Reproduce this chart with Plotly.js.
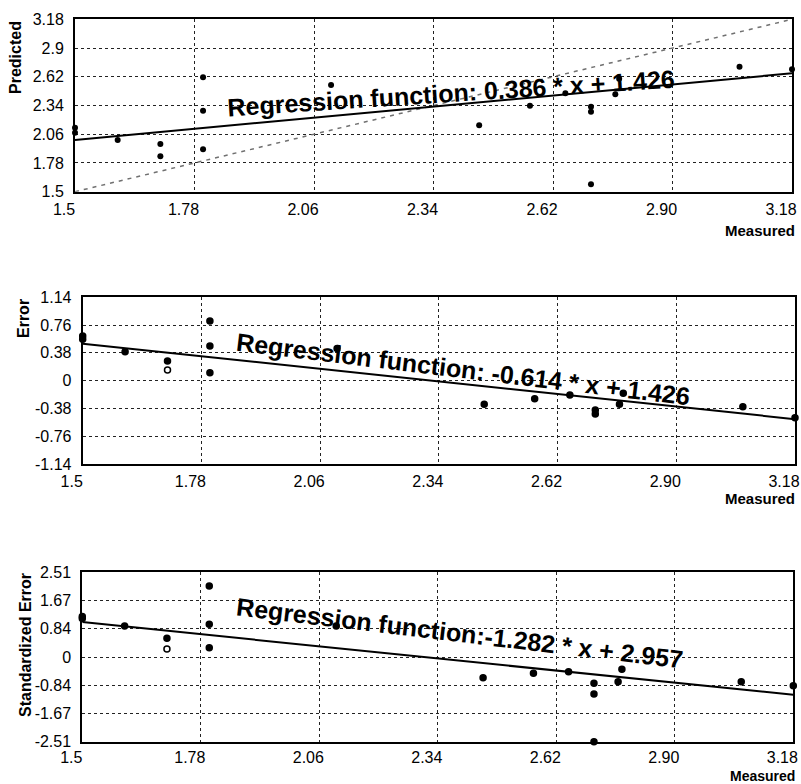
<!DOCTYPE html>
<html>
<head>
<meta charset="utf-8">
<script src="https://cdn.plot.ly/plotly-3.0.1.min.js"></script>
<style>html,body{margin:0;padding:0;background:#fff;}#chart{width:801px;height:784px;}</style>
</head>
<body>
<div id="chart"></div>
<script>
// ---- data ----
const measured  = [1.50, 1.50, 1.60, 1.70, 1.70, 1.80, 1.80, 1.80, 2.10, 2.447, 2.566, 2.649, 2.709, 2.709, 2.709, 2.766, 2.775, 3.057, 3.18];
const predicted = [2.124, 2.075, 2.004, 1.965, 1.845, 2.615, 2.289, 1.913, 2.540, 2.147, 2.338, 2.459, 2.328, 2.280, 1.572, 2.449, 2.60, 2.718, 2.693];
const errorVals = [0.611, 0.566, 0.396, 0.269, 0.146, 0.816, 0.474, 0.109, 0.44, -0.323, -0.247, -0.196, -0.401, -0.456, -1.16, -0.323, -0.173, -0.356, -0.507];
const stdError  = [1.20, 1.14, 0.919, 0.554, 0.237, 2.104, 0.969, 0.276, 0.92, -0.613, -0.483, -0.436, -0.779, -1.096, -2.51, -0.732, -0.365, -0.732, -0.85];

const regSlopes     = [0.386, -0.614, -1.282];
const regIntercepts = [1.426, 1.426, 2.957];
const regTexts = [
  'Regression function: 0.386 * x + 1.426',
  'Regression function: -0.614 * x + 1.426',
  'Regression function:-1.282 * x + 2.957'
];

const xTickVals = [1.5, 1.78, 2.06, 2.34, 2.62, 2.9, 3.18];
const xTickText = ['1.5', '1.78', '2.06', '2.34', '2.62', '2.90', '3.18'];
const yTickVals1 = [1.5, 1.78, 2.06, 2.34, 2.62, 2.9, 3.18];
const yTickText1 = ['1.5', '1.78', '2.06', '2.34', '2.62', '2.9', '3.18'];
const yTickVals2 = [-1.14, -0.76, -0.38, 0, 0.38, 0.76, 1.14];
const yTickText2 = ['-1.14', '-0.76', '-0.38', '0', '0.38', '0.76', '1.14'];
const yTickVals3 = [-2.51, -1.67, -0.84, 0, 0.84, 1.67, 2.51];
const yTickText3 = ['-2.51', '-1.67', '-0.84', '0', '0.84', '1.67', '2.51'];
const yTitles = ['Predicted', 'Error', 'Standardized Error'];
const xTitle = 'Measured';

// ---- layout geometry ----
const W = 801, H = 784;
const px = v => v / W;
const py = v => 1 - v / H;
const xRange = [1.5, 3.18];

const FONT = '"Liberation Sans", Arial, sans-serif';

function lineEnds(i) {
  return {x: xRange.slice(), y: xRange.map(v => regSlopes[i] * v + regIntercepts[i])};
}

const markerSymbols = measured.map((_, i) => i === 4 ? 'circle-open' : 'circle');

const traces = [];
// top
traces.push({x: xRange.slice(), y: xRange.slice(), mode: 'lines', xaxis: 'x', yaxis: 'y',
  line: {color: '#707070', width: 1.5, dash: '4px,5px'}, hoverinfo: 'skip'});
const l1 = lineEnds(0);
traces.push({x: l1.x, y: l1.y, mode: 'lines', xaxis: 'x', yaxis: 'y', line: {color: '#000', width: 2}});
traces.push({x: measured, y: predicted, mode: 'markers', xaxis: 'x', yaxis: 'y', cliponaxis: false,
  marker: {color: '#000', size: 6}});
// middle
const l2 = lineEnds(1);
traces.push({x: l2.x, y: l2.y, mode: 'lines', xaxis: 'x2', yaxis: 'y2', line: {color: '#000', width: 2}});
traces.push({x: measured, y: errorVals, mode: 'markers', xaxis: 'x2', yaxis: 'y2', cliponaxis: false,
  marker: {color: '#000', size: 6, symbol: markerSymbols, line: {color: '#000', width: 1.5}}});
// bottom
const l3 = lineEnds(2);
traces.push({x: l3.x, y: l3.y, mode: 'lines', xaxis: 'x3', yaxis: 'y3', line: {color: '#000', width: 2}});
traces.push({x: measured, y: stdError, mode: 'markers', xaxis: 'x3', yaxis: 'y3', cliponaxis: false,
  marker: {color: '#000', size: 6, symbol: markerSymbols, line: {color: '#000', width: 1.5}}});

function xAxis(domain, anchor, standoff) {
  return {domain: domain, anchor: anchor, range: xRange, tickvals: xTickVals, ticktext: xTickText,
    ticks: '', ticklabelstandoff: standoff, ticklabelshift: -11, showgrid: true, gridcolor: '#222', griddash: 'dot', gridwidth: 1,
    showline: true, linecolor: '#000', linewidth: 2, mirror: true, zeroline: false,
    tickfont: {family: FONT, size: 16, color: '#000'}, fixedrange: true};
}
function yAxis(domain, anchor, range, vals, text) {
  return {domain: domain, anchor: anchor, range: range, tickvals: vals, ticktext: text,
    ticks: '', ticklabelstandoff: 6, showgrid: true, gridcolor: '#222', griddash: 'dot', gridwidth: 1,
    showline: true, linecolor: '#000', linewidth: 2, mirror: true, zeroline: false,
    tickfont: {family: FONT, size: 16, color: '#000'}, fixedrange: true};
}

const annotations = [];
const regPos = [[450.5, 93, -3.7], [462.5, 369, 6.9], [460, 633, 6.8]];
regTexts.forEach((t, i) => {
  annotations.push({text: t, xref: 'paper', yref: 'paper', x: px(regPos[i][0]), y: py(regPos[i][1]),
    xanchor: 'center', yanchor: 'middle', showarrow: false, textangle: regPos[i][2],
    font: {family: FONT, size: 25, color: '#000', weight: 'bold'}});
});
const yTitlePos = [[15, 58], [23, 319], [25, 645]];
yTitles.forEach((t, i) => {
  annotations.push({text: t, xref: 'paper', yref: 'paper', x: px(yTitlePos[i][0]), y: py(yTitlePos[i][1]),
    xanchor: 'center', yanchor: 'middle', showarrow: false, textangle: -90,
    font: {family: FONT, size: 16, color: '#000', weight: 'bold'}});
});
[[230, 15], [498, 15], [776, 14]].forEach(([yy, fs]) => {
  annotations.push({text: xTitle, xref: 'paper', yref: 'paper', x: px(797), y: py(yy),
    xanchor: 'right', yanchor: 'middle', showarrow: false,
    font: {family: FONT, size: fs, color: '#000', weight: 'bold'}});
});

const layout = {
  width: W, height: H, margin: {l: 0, r: 0, t: 0, b: 0}, showlegend: false,
  paper_bgcolor: '#fff', plot_bgcolor: '#fff',
  font: {family: FONT, color: '#000'},
  xaxis: xAxis([px(75), px(792)], 'y', 2),
  yaxis: yAxis([py(191.7), py(19.3)], 'x', [1.5, 3.18], yTickVals1, yTickText1),
  xaxis2: xAxis([px(82.7), px(795)], 'y2', 2),
  yaxis2: yAxis([py(464), py(297.3)], 'x2', [-1.14, 1.14], yTickVals2, yTickText2),
  xaxis3: xAxis([px(82.3), px(793.3)], 'y3', 0),
  yaxis3: yAxis([py(741.7), py(572.3)], 'x3', [-2.51, 2.51], yTickVals3, yTickText3),
  annotations: annotations
};

Plotly.newPlot('chart', traces, layout, {staticPlot: true, displayModeBar: false});
</script>
</body>
</html>
